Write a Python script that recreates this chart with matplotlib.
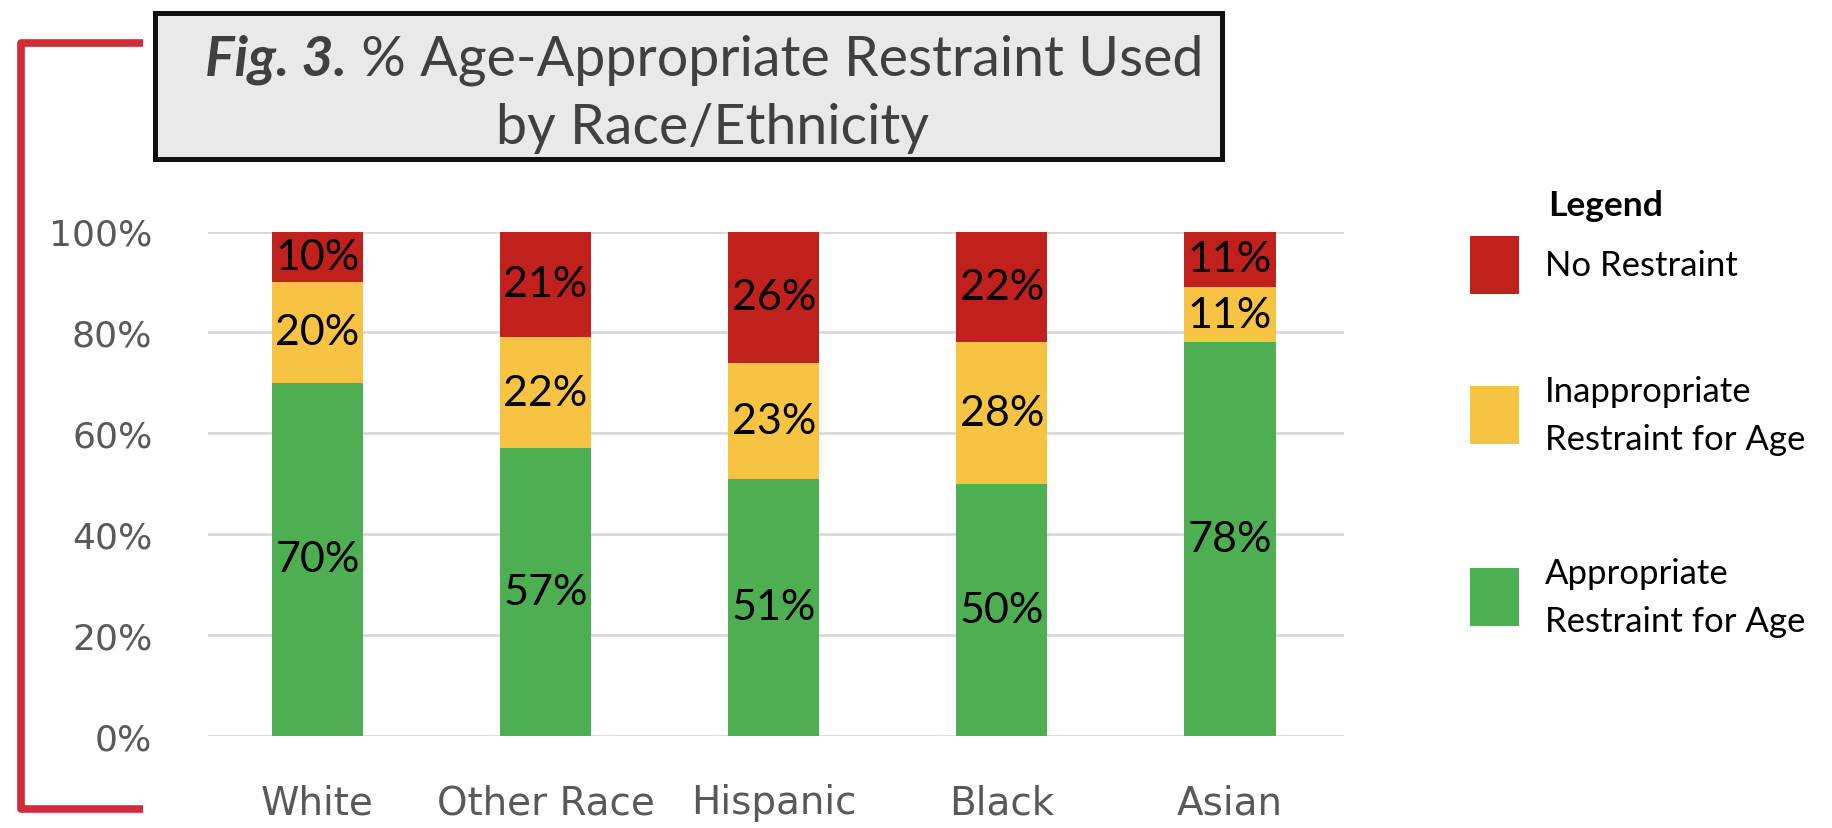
import matplotlib
matplotlib.use("Agg")
import matplotlib.pyplot as plt
from matplotlib.patches import Rectangle
from matplotlib.lines import Line2D
import numpy as np

# restraint use by race/ethnicity, percent of children
groups = ["White", "Other Race", "Hispanic", "Black", "Asian"]
appropriate = [70, 57, 51, 50, 78]
inappropriate = [20, 22, 23, 28, 11]
no_restraint = [10, 21, 26, 22, 11]
yticks = [0, 20, 40, 60, 80, 100]

c_green = "#4eae52"
c_yellow = "#f6c343"
c_red = "#c0211d"

W, H = 1832, 829
fig = plt.figure(figsize=(W / 100, H / 100), dpi=100)
fig.patch.set_facecolor("white")

def fx(px):
    return px / W

def fy(py):
    return 1 - py / H

ax = fig.add_axes([fx(208), fy(737), fx(1344) - fx(208), fy(232.5) - fy(737)])
x = np.arange(len(groups))
bw = 0.4
series = [(appropriate, c_green), (inappropriate, c_yellow), (no_restraint, c_red)]
bottom = np.zeros(len(groups))
for vals, col in series:
    vals = np.array(vals, dtype=float)
    ax.bar(x, vals, bw, bottom=bottom, color=col, zorder=2)
    for xi, b, v in zip(x, bottom, vals):
        ax.text(xi, b + v / 2, f"{int(v)}%", ha="center", va="center",
                fontsize=31, family="Lato", color="black", zorder=3)
    bottom += vals

ax.set_xlim(-0.48, 4.5)
ax.set_ylim(0, 100)
ax.set_yticks(yticks)
ax.set_yticklabels([f"{t}%" for t in yticks])
ax.set_xticks(x)
ax.set_xticklabels(groups)
ax.tick_params(axis="y", length=0, pad=40, labelsize=26, labelcolor="#595959")
ax.tick_params(axis="x", length=0, pad=34, labelsize=28, labelcolor="#595959")
ax.grid(axis="y", color="#d9d9d9", linewidth=2, zorder=0)
for s in ax.spines.values():
    s.set_visible(False)
ax.set_facecolor("none")

# title box
fig.patches.append(Rectangle((fx(155), fy(160)), fx(1222) - fx(155), fy(14) - fy(160),
                             transform=fig.transFigure, facecolor="#e9e9e9",
                             edgecolor="#111111", linewidth=3.6, zorder=1))
t1 = fig.text(0, fy(60), "Fig. 3.", fontsize=40, family="Lato", weight="bold",
              style="italic", color="#404040", va="center", ha="left")
t2 = fig.text(0, fy(60), " % Age-Appropriate Restraint Used", fontsize=40,
              family="Lato", color="#404040", va="center", ha="left")
fig.text(fx(712), fy(128), "by Race/Ethnicity", fontsize=40, family="Lato",
         color="#404040", va="center", ha="center")

fig.canvas.draw()
r = fig.canvas.get_renderer()
w1 = t1.get_window_extent(r).width
w2 = t2.get_window_extent(r).width
start = 704 - (w1 + w2) / 2
t1.set_x(fx(start))
t2.set_x(fx(start + w1))

# red bracket on the left
fig.add_artist(Line2D([fx(143), fx(21), fx(21), fx(143)],
                      [fy(44), fy(44), fy(810), fy(810)],
                      transform=fig.transFigure, color="#d42a3a", linewidth=5.5,
                      solid_joinstyle="round", solid_capstyle="butt"))

# legend
fig.text(fx(1548), fy(206), "Legend", fontsize=25.5, family="Lato", weight="bold",
         color="black", va="center", ha="left")
legend_items = [("No Restraint", c_red, 266),
                ("Inappropriate\nRestraint for Age", c_yellow, 416),
                ("Appropriate\nRestraint for Age", c_green, 598)]
for label, col, yc in legend_items:
    fig.patches.append(Rectangle((fx(1470), fy(yc + 29)), fx(49), fy(yc - 29) - fy(yc + 29),
                                 transform=fig.transFigure, facecolor=col,
                                 edgecolor="none"))
    fig.text(fx(1545), fy(yc), label, fontsize=25, family="Lato", color="black",
             va="center", ha="left", linespacing=1.6)

fig.savefig("out.png", dpi=100)
